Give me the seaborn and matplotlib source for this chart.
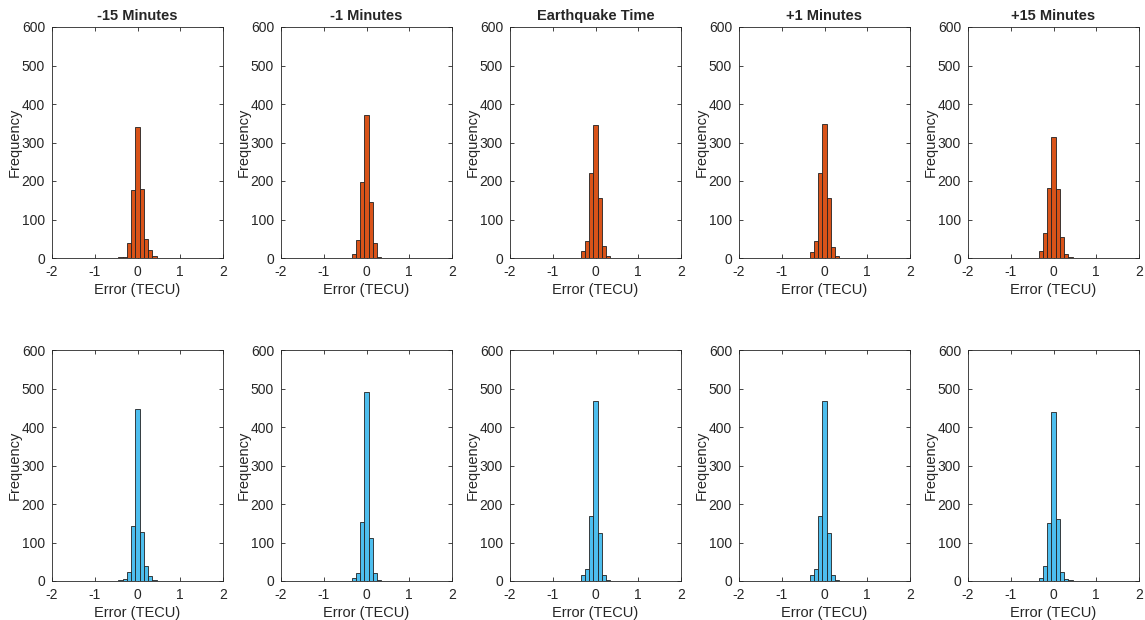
import pandas as pd
import matplotlib.pyplot as plt
import seaborn as sns

# bin centres (TECU) and counts
centers = [-0.4, -0.3, -0.2, -0.1, 0.0, 0.1, 0.2, 0.3, 0.4]
titles = ["-15 Minutes", "-1 Minutes", "Earthquake Time", "+1 Minutes", "+15 Minutes"]

# top row (red)
top_m15 = [2, 3, 38, 177, 341, 178, 50, 21, 4]
top_m1 = [1, 10, 47, 198, 371, 146, 39, 3, 0]
top_eq = [1, 17, 44, 222, 345, 157, 31, 6, 0]
top_p1 = [1, 16, 44, 222, 347, 157, 29, 6, 0]
top_p15 = [1, 18, 64, 181, 315, 178, 55, 10, 3]

# bottom row (blue)
bot_m15 = [3, 4, 24, 143, 448, 126, 39, 13, 3]
bot_m1 = [1, 8, 22, 154, 490, 111, 22, 3, 0]
bot_eq = [1, 16, 30, 169, 467, 124, 16, 2, 0]
bot_p1 = [1, 16, 30, 169, 467, 124, 16, 2, 0]
bot_p15 = [1, 9, 40, 150, 440, 160, 24, 4, 2]

rows = [
    ([top_m15, top_m1, top_eq, top_p1, top_p15], "#D95319"),
    ([bot_m15, bot_m1, bot_eq, bot_p1, bot_p15], "#4DBEEE"),
]

sns.set_style("ticks")
plt.rcParams["font.family"] = ["Liberation Sans", "DejaVu Sans"]
plt.rcParams["font.size"] = 10
plt.rcParams["axes.unicode_minus"] = False

W, H = 1145, 620
fig = plt.figure(figsize=(W / 100, H / 100), dpi=100)

row_tops = [27, 350]

for r, (series, color) in enumerate(rows):
    for k, counts in enumerate(series):
        df = pd.DataFrame({"error": centers, "count": counts})
        left = 52 + 229 * k
        ax = fig.add_axes([left / W, 1 - (row_tops[r] + 231) / H, 171 / W, 231 / H])
        sns.histplot(data=df, x="error", weights="count", binwidth=0.1,
                     binrange=(-2.05, 2.05), color=color, alpha=1,
                     edgecolor="#222222", linewidth=0.6, ax=ax)
        ax.set_xlim(-2, 2)
        ax.set_ylim(0, 600)
        ax.set_xticks([-2, -1, 0, 1, 2])
        ax.set_yticks(range(0, 601, 100))
        ax.tick_params(direction="in", length=3, width=0.6, top=True, right=True,
                       labelsize=10)
        ax.tick_params(axis="x", pad=5)
        ax.tick_params(axis="y", pad=5)
        for s in ax.spines.values():
            s.set_linewidth(0.6)
            s.set_color("#262626")
        ax.set_xlabel("Error (TECU)", fontsize=10.5, labelpad=3)
        ax.set_ylabel("Frequency", fontsize=10.5, labelpad=0)
        if r == 0:
            ax.set_title(titles[k], fontsize=10.5, fontweight="bold", pad=5)

fig.savefig("out.png", dpi=100)
